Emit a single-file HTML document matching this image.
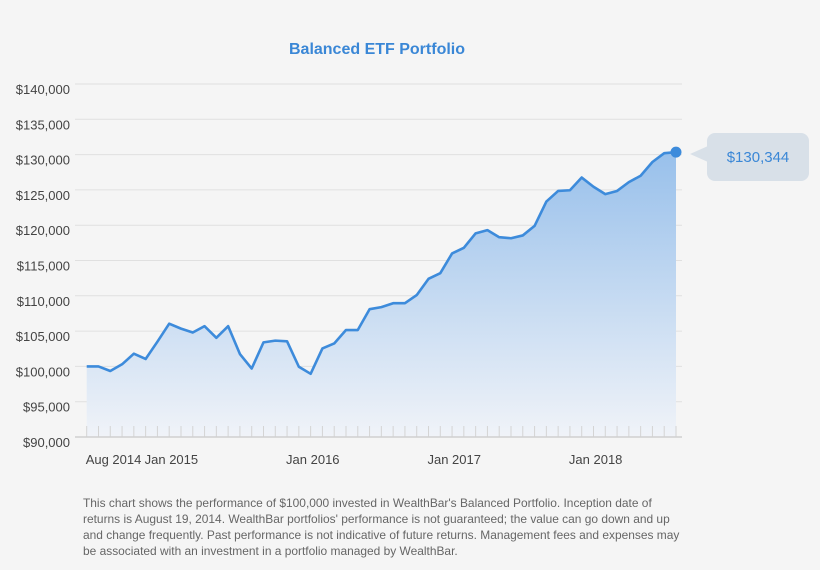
<!DOCTYPE html>
<html><head><meta charset="utf-8"><style>
body{margin:0;background:#f5f5f5;font-family:"Liberation Sans",sans-serif;}
#wrap{position:relative;width:820px;height:570px;overflow:hidden;background:#f5f5f5;}
#note{position:absolute;left:83px;top:495px;width:598px;font-size:11.95px;line-height:16px;color:#666;}
</style></head><body>
<div id="wrap">
<svg id="chart" width="820" height="570">
<defs><linearGradient id="g" x1="0" y1="0" x2="0" y2="1">
<stop offset="0" stop-color="#98c0eb"/><stop offset="1" stop-color="#f0f3f8"/></linearGradient></defs>
<text x="377" y="54" text-anchor="middle" font-size="16" font-weight="bold" fill="#3a87d6">Balanced ETF Portfolio</text>
<g id="grid"></g><g id="area"></g><g id="xaxis"></g>
<g>
<polygon points="690,154 708,146 708,162" fill="#d8e0e8"/>
<rect x="707" y="133" width="102" height="48" rx="8" fill="#d8e0e8"/>
<text x="758" y="162" text-anchor="middle" font-size="15" fill="#3a87d6">$130,344</text>
</g>
</svg>
<div id="note">This chart shows the performance of $100,000 invested in WealthBar's Balanced Portfolio. Inception date of returns is August 19, 2014. WealthBar portfolios' performance is not guaranteed; the value can go down and up and change frequently. Past performance is not indicative of future returns. Management fees and expenses may be associated with an investment in a portfolio managed by WealthBar.</div>
</div>
<script>
const values=[100000,100000,99350,100300,101800,101050,103500,106050,105350,104800,105700,104050,105700,101750,99700,103400,103650,103550,99950,98950,102550,103250,105150,105150,108100,108400,108950,108950,110100,112400,113200,116000,116800,118850,119300,118300,118150,118550,119900,123350,124850,124950,126750,125450,124400,124850,126100,127000,128950,130200,130344];
const xLabels=["Aug 2014","Jan 2015","Jan 2016","Jan 2017","Jan 2018"];
const xLabelIdx=[0,5,17,29,41];
const yTicks=[90000,95000,100000,105000,110000,115000,120000,125000,130000,135000,140000];
const NS="http://www.w3.org/2000/svg";
const X=i=>86.7+i*(676-86.7)/(values.length-1);
const Y=v=>437-(v-90000)/50000*353;
function mk(t,a,p){const e=document.createElementNS(NS,t);for(const k in a)e.setAttribute(k,a[k]);p.appendChild(e);return e;}
const grid=document.getElementById('grid'),area=document.getElementById('area'),xa=document.getElementById('xaxis');
yTicks.forEach(v=>{
 if(v>90000){const l=mk('line',{x1:75,x2:682,y1:Y(v),y2:Y(v),stroke:'#e0e0e0','stroke-width':1},grid);
 
 }
 const t=mk('text',{x:70,y:Y(v)+10,'text-anchor':'end','font-size':13,fill:'#444'},grid);
 t.textContent='$'+v.toLocaleString('en-US');
 
 
});
let d='M'+X(0)+','+Y(values[0]);
values.forEach((v,i)=>{if(i)d+=' L'+X(i)+','+Y(v);});
const a=mk('path',{d:d+' L'+X(values.length-1)+',437 L'+X(0)+',437 Z',fill:'url(#g)'},area);


const ln=mk('path',{d:d,fill:'none',stroke:'#3d8bdb','stroke-width':2.6,'stroke-linejoin':'round'},area);


const dot=mk('circle',{cx:X(values.length-1),cy:Y(values[values.length-1]),r:5.5,fill:'#3d8bdb'},area);


values.forEach((v,i)=>{const t=mk('line',{x1:X(i),x2:X(i),y1:426,y2:437,stroke:'#d4d4d4','stroke-width':1},xa);
 
 });
const ax=mk('line',{x1:75,x2:682,y1:437,y2:437,stroke:'#d0d0d0','stroke-width':1.5},xa);


xLabels.forEach((s,k)=>{const t=mk('text',{x:X(xLabelIdx[k])-1,y:464,'font-size':13,fill:'#444'},xa);
 t.textContent=s;
 
 });
</script>
</body></html>
